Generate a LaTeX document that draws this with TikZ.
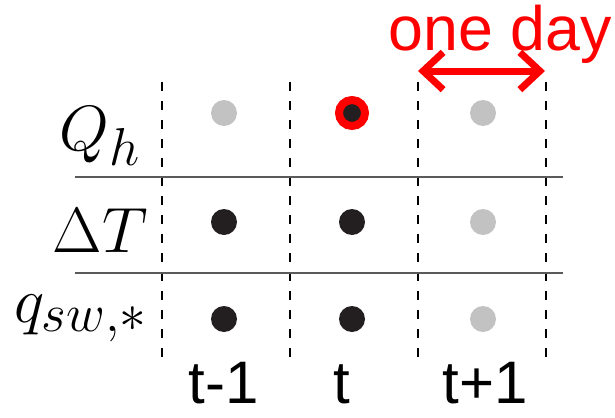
\documentclass[tikz,border=0pt]{standalone}
\usepackage{fontspec}
\newfontfamily\labelfont{Liberation Sans}
\usetikzlibrary{arrows.meta}
\definecolor{dotblack}{HTML}{231F20}
\definecolor{dotgray}{HTML}{C2C2C2}
\definecolor{rulegray}{HTML}{5A5A5A}
\newcommand{\bigvar}[1]{\scalebox{1.93}{\Huge$#1$}}

\begin{document}
\begin{tikzpicture}[x=0.75pt, y=-0.75pt,
    dot/.style={circle, inner sep=0pt, minimum size=19.5pt},
    known/.style={dot, fill=dotblack},
    unknown/.style={dot, fill=dotgray},
    target/.style={dot, fill=dotblack, draw=red, line width=6pt},
    dayline/.style={line width=1.6pt, dash pattern=on 6.75pt off 7.5pt},
    rowline/.style={line width=1.5pt, draw=rulegray},
    varlabel/.style={anchor=base east, inner sep=0pt},
    timelabel/.style={anchor=base, font=\labelfont\fontsize{45}{47}\selectfont, inner sep=0pt},
    dayarrow/.style={{Straight Barb[length=15pt, width=28pt]}-{Straight Barb[length=15pt, width=28pt]}, line width=5.25pt, red},
]
\useasboundingbox (0,0) rectangle (615,418);

% day boundaries
\coordinate (d0top) at (162,82);  \coordinate (d0bot) at (162,357);
\coordinate (d1top) at (290,82);  \coordinate (d1bot) at (290,357);
\coordinate (d2top) at (418,82);  \coordinate (d2bot) at (418,357);
\coordinate (d3top) at (546,82);  \coordinate (d3bot) at (546,357);
\draw[dayline] (d0top) -- (d0bot);
\draw[dayline] (d1top) -- (d1bot);
\draw[dayline] (d2top) -- (d2bot);
\draw[dayline] (d3top) -- (d3bot);

% row separators
\coordinate (r1west) at (75,177);  \coordinate (r1east) at (563,177);
\coordinate (r2west) at (75,273);  \coordinate (r2east) at (563,273);
\draw[rowline] (r1west) -- (r1east);
\draw[rowline] (r2west) -- (r2east);

% variables
\node[varlabel] (qh) at (141,150) {\bigvar{Q_h}};
\node[varlabel] (dT) at (148,252) {\bigvar{\Delta T}};
\node[varlabel] (qsw) at (148,322) {\bigvar{q_{sw,*}}};

% observations
\node[unknown] (qh_prev) at (224,113) {};
\node[target]  (qh_now)  at (352,113) {};
\node[unknown] (qh_next) at (483,113) {};
\node[known]   (dT_prev) at (224,222) {};
\node[known]   (dT_now)  at (352,222) {};
\node[unknown] (dT_next) at (483,222) {};
\node[known]   (qsw_prev) at (224,319) {};
\node[known]   (qsw_now)  at (352,319) {};
\node[unknown] (qsw_next) at (483,319) {};

% time steps
\node[timelabel] (tprev) at (224,403) {t-1};
\node[timelabel] (tnow)  at (342,403) {t};
\node[timelabel] (tnext) at (485,403) {t+1};

% one day span
\coordinate (spanwest) at (418,71);
\coordinate (spaneast) at (545,71);
\draw[dayarrow] (spanwest) -- (spaneast);
\node[timelabel, text=red, font=\labelfont\fontsize{47}{49}\selectfont] (oneday) at (500,50) {one day};

\end{tikzpicture}
\end{document}
